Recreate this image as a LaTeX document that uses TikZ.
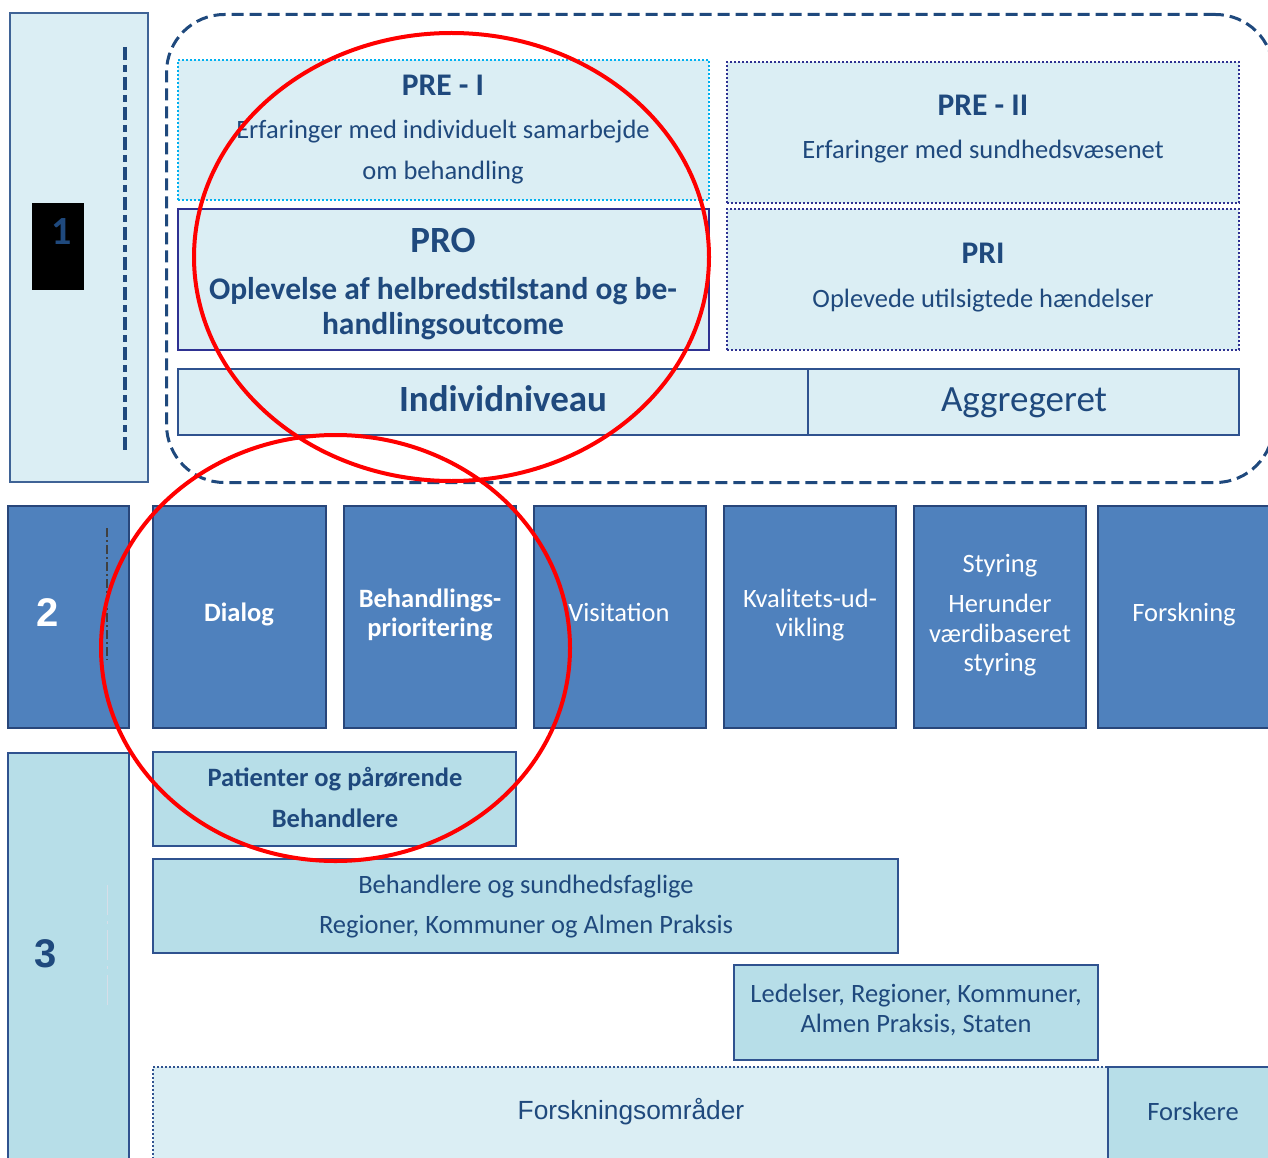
\documentclass[tikz,border=0pt]{standalone}
\usepackage{fontspec}
\setmainfont{Carlito}
\newfontfamily\arialfont{Liberation Sans}
\usetikzlibrary{shapes.geometric}
\definecolor{tblue}{HTML}{1F497D}
\definecolor{paleblue}{HTML}{DBEEF4}
\definecolor{aquablue}{HTML}{B7DEE8}
\definecolor{midblue}{HTML}{4F81BD}
\definecolor{edgeblue}{HTML}{2F528F}
\definecolor{steelblue}{HTML}{3F6396}
\definecolor{cyanedge}{HTML}{00B0F0}
\definecolor{indigoedge}{HTML}{2E3192}
\definecolor{ringred}{HTML}{FF0000}
\begin{document}
\begin{tikzpicture}[x=1pt,y=-1pt,
  box/.style={anchor=north west, inner sep=0pt, outer sep=0pt, line width=2.2pt},
  palebox/.style={box, fill=paleblue, draw=edgeblue},
  aquabox/.style={box, fill=aquablue, draw=edgeblue},
  bluebox/.style={box, fill=midblue, draw=edgeblue!85!black},
  dotbox/.style={box, fill=paleblue, line width=2.4pt, dash pattern=on 2pt off 2pt},
  txt/.style={text=tblue, anchor=base, inner sep=0pt, align=center, font=\fontsize{26.5}{30}\selectfont},
  btxt/.style={txt, font=\fontsize{26.5}{30}\selectfont\bfseries},
  headtxt/.style={txt, font=\fontsize{31.5}{34}\selectfont\bfseries},
  wtxt/.style={txt, text=white},
  wbtxt/.style={btxt, text=white},
  digit/.style={txt, font=\fontsize{40}{42}\selectfont\bfseries\arialfont},
  container/.style={anchor=north west, inner sep=0pt, draw=tblue, line width=3pt,
    dash pattern=on 12pt off 6pt, rounded corners=58pt},
  ring/.style={ellipse, draw=ringred, line width=4pt, inner sep=0pt}
]
\useasboundingbox (0,0) rectangle (1268,1158);
\clip (0,0) rectangle (1268,1158);
\fill[white] (0,0) rectangle (1268,1158);

% ---- level 1 ----
\node[palebox, draw=steelblue, minimum width=138pt, minimum height=469pt] (b1) at (10,13) {};
\coordinate (b1top) at (125,47);
\coordinate (b1bot) at (125,452);
\draw[tblue, line width=4pt, dash pattern=on 13pt off 5pt on 7pt off 5pt] (b1top) -- (b1bot);
\node[fill=black, anchor=north west, minimum width=52pt, minimum height=87pt, inner sep=0pt] (b1mark) at (32,203) {};
\node[txt, font=\fontsize{40}{42}\selectfont\bfseries] (n1) at (62,245) {1};

\node[container, minimum width=1107pt, minimum height=468pt] (grp) at (165,13) {};

\node[dotbox, draw=cyanedge, minimum width=531pt, minimum height=140pt] (pre1) at (178,60) {};
\node[headtxt] (pre1t) at (443,96) {PRE - I};
\node[txt] (pre1a) at (443,139) {Erfaringer med individuelt samarbejde};
\node[txt] (pre1b) at (443,180) {om behandling};

\node[palebox, draw=indigoedge, minimum width=531pt, minimum height=141pt] (pro) at (178,209) {};
\node[txt, font=\fontsize{37}{40}\selectfont\bfseries] (prot) at (443,252) {PRO};
\node[headtxt] (proa) at (443,299.5) {Oplevelse af helbredstilstand og be-};
\node[headtxt] (prob) at (443,334.5) {handlingsoutcome};

\node[dotbox, draw=indigoedge, minimum width=512pt, minimum height=141pt] (pre2) at (727,62) {};
\node[headtxt] (pre2t) at (983,116) {PRE - II};
\node[txt] (pre2a) at (983,159) {Erfaringer med sundhedsvæsenet};

\node[dotbox, draw=indigoedge, minimum width=512pt, minimum height=141pt] (pri) at (727,209) {};
\node[headtxt] (prit) at (983,264) {PRI};
\node[txt] (pria) at (983,307) {Oplevede utilsigtede hændelser};

\node[palebox, minimum width=630pt, minimum height=66pt] (indiv) at (178,369) {};
\node[txt, font=\fontsize{37}{40}\selectfont\bfseries] (indivt) at (503,411) {Individniveau};
\node[palebox, minimum width=431pt, minimum height=66pt] (aggr) at (808,369) {};
\node[txt, font=\fontsize{37}{40}\selectfont] (aggrt) at (1024,411) {Aggregeret};

% ---- level 2 ----
\node[bluebox, minimum width=121pt, minimum height=222pt] (b2) at (8,506) {};
\coordinate (b2top) at (107,528);
\coordinate (b2bot) at (107,660);
\draw[black!75, line width=1.6pt, dash pattern=on 9pt off 3pt on 2pt off 3pt] (b2top) -- (b2bot);
\node[digit, text=white] (n2) at (48,626) {2};

\node[bluebox, minimum width=173pt, minimum height=222pt] (dialog) at (153,506) {};
\node[wbtxt] (dialogt) at (239,621) {Dialog};
\node[bluebox, minimum width=172pt, minimum height=222pt] (prior) at (344,506) {};
\node[wbtxt] (priora) at (430,607) {Behandlings-};
\node[wbtxt] (priorb) at (430,636) {prioritering};
\node[bluebox, minimum width=172pt, minimum height=222pt] (visit) at (534,506) {};
\node[wtxt] (visitt) at (619,621) {Visitation};
\node[bluebox, minimum width=172pt, minimum height=222pt] (kval) at (724,506) {};
\node[wtxt] (kvala) at (810,607) {Kvalitets-ud-};
\node[wtxt] (kvalb) at (810,636) {vikling};
\node[bluebox, minimum width=172pt, minimum height=222pt] (styr) at (914,506) {};
\node[wtxt] (styra) at (1000,572) {Styring};
\node[wtxt] (styrb) at (1000,612) {Herunder};
\node[wtxt] (styrc) at (1000,642) {værdibaseret};
\node[wtxt] (styrd) at (1000,671) {styring};
\node[bluebox, minimum width=182pt, minimum height=222pt] (forsk) at (1098,506) {};
\node[wtxt] (forskt) at (1184,621) {Forskning};

% ---- level 3 ----
\node[aquabox, minimum width=121pt, minimum height=430pt] (b3) at (8,753) {};
\coordinate (b3top) at (107,885);
\coordinate (b3bot) at (107,1010);
\draw[tblue!18, line width=1pt, dash pattern=on 30pt off 6pt on 3pt off 6pt] (b3top) -- (b3bot);
\node[digit] (n3) at (46,967) {3};

\node[aquabox, minimum width=363pt, minimum height=94pt] (pat) at (153,752) {};
\node[btxt] (pata) at (335,786) {Patienter og pårørende};
\node[btxt] (patb) at (335,827) {Behandlere};

\node[aquabox, minimum width=745pt, minimum height=94pt] (beh) at (153,859) {};
\node[txt] (beha) at (526,893) {Behandlere og sundhedsfaglige};
\node[txt] (behb) at (526,933) {Regioner, Kommuner og Almen Praksis};

\node[aquabox, minimum width=364pt, minimum height=95pt] (led) at (734,965) {};
\node[txt] (leda) at (916,1002) {Ledelser, Regioner, Kommuner,};
\node[txt] (ledb) at (916,1032) {Almen Praksis, Staten};

\node[dotbox, draw=edgeblue, minimum width=955pt, minimum height=120pt] (fomr) at (153,1067) {};
\node[txt, font=\fontsize{26.3}{30}\selectfont\arialfont] (fomrt) at (631,1119) {Forskningsområder};
\node[aquabox, minimum width=180pt, minimum height=120pt] (fskr) at (1108,1067) {};
\node[txt] (fskrt) at (1193,1120) {Forskere};

% ---- highlight rings ----
\node[ring, minimum width=515pt, minimum height=448pt] (ring1) at (451.5,257) {};
\node[ring, minimum width=469pt, minimum height=426pt] (ring2) at (335.5,648) {};
\end{tikzpicture}
\end{document}
